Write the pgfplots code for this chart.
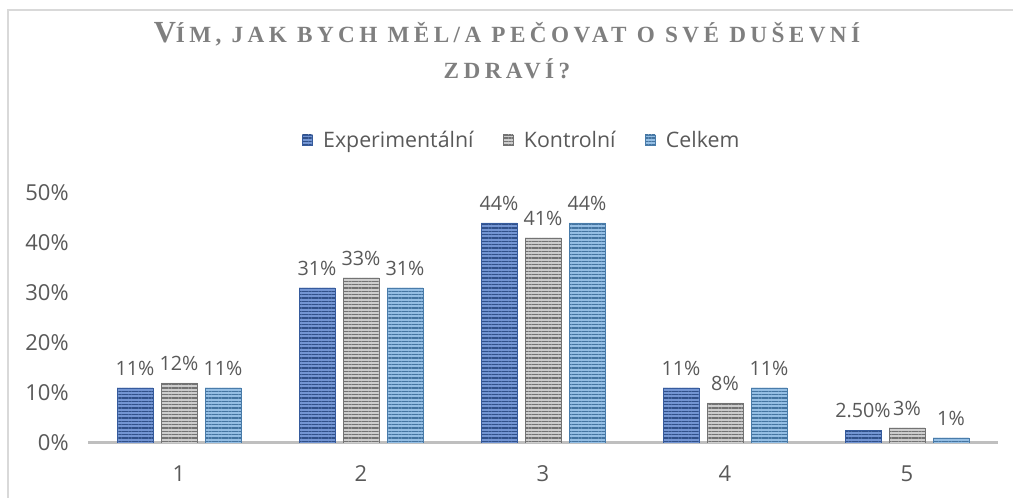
\documentclass[border=0pt]{standalone}
\usepackage{pgfplots}
\pgfplotsset{compat=1.18}
\usepackage{fontspec}
\setmainfont{Open Sans}
\newfontfamily\titlefont[LetterSpace=19]{Liberation Serif}
\usetikzlibrary{patterns.meta}
\definecolor{expblue}{HTML}{4472C4}
\definecolor{kgray}{HTML}{A5A5A5}
\definecolor{cblue}{HTML}{5B9BD5}
\definecolor{txtgray}{HTML}{595959}
\definecolor{titlegray}{HTML}{7F7F7F}
\definecolor{axgray}{HTML}{BFBFBF}
\definecolor{brd}{HTML}{D9D9D9}
\begin{document}
\begin{tikzpicture}[x=0.75pt,y=0.75pt]
\useasboundingbox (0,0) rectangle (1013,498);
\draw[brd,line width=1.5pt] (7.5,0) -- (7.5,487.5) -- (1013,487.5);
\node[titlegray,font=\titlefont\bfseries\fontsize{17.4}{20}\selectfont,anchor=base,inner sep=0pt] at (507,455)
 {{\fontsize{23}{26}\selectfont V}ÍM, JAK BYCH MĚL/A PEČOVAT O SVÉ DUŠEVNÍ};
\node[titlegray,font=\titlefont\bfseries\fontsize{17.4}{20}\selectfont,anchor=base,inner sep=0pt] at (507,419)
 {ZDRAVÍ?};
\begin{axis}[
  at={(66pt,41.25pt)}, anchor=origin,
  scale only axis, width=682.5pt, height=187.5pt,
  ybar=6pt, bar width=27pt,
  xmin=0.5, xmax=5.5, ymin=0, ymax=0.5,
  axis x line*=bottom, axis y line*=left,
  y axis line style={draw=none},
  x axis line style={draw=axgray,line width=2.25pt},
  xtick={1,2,3,4,5}, xticklabels={1,2,3,4,5},
  ytick={0,0.1,0.2,0.3,0.4,0.5},
  yticklabels={0\%,10\%,20\%,30\%,40\%,50\%},
  tick style={draw=none},
  ticklabel style={font=\fontsize{16.5}{19}\selectfont, text=txtgray},
  yticklabel style={xshift=-11pt},
  xticklabel style={yshift=-9pt},
  point meta=explicit symbolic,
  nodes near coords,
  nodes near coords style={font=\fontsize{14.8}{18}\selectfont, text=txtgray, anchor=south, yshift=6pt},
  legend style={at={(0.477,1.212)}, anchor=center, draw=none, fill=none,
    legend columns=3, font=\fontsize{16}{19}\selectfont, text=txtgray,
    /tikz/every odd column/.append style={column sep=6pt},
    /tikz/every even column/.append style={column sep=20pt}},
  legend image code/.code={\draw[#1,draw=none] (0pt,-3.75pt) rectangle (7.5pt,3.75pt);},
]
\addplot[fill=expblue!75!white, draw=expblue!80!black, line width=0.3pt,
  postaction={pattern={Lines[angle=0,distance=2.5pt,line width=0.8pt]}, pattern color=expblue!70!black}]
 coordinates {(1,0.11) [11\%] (2,0.31) [31\%] (3,0.44) [44\%] (4,0.11) [11\%] (5,0.025) [2.50\%]};
\addplot[fill=kgray!55!white, draw=kgray!70!black, line width=0.3pt,
  postaction={pattern={Lines[angle=0,distance=2.5pt,line width=0.8pt]}, pattern color=kgray!70!black}]
 coordinates {(1,0.12) [12\%] (2,0.33) [33\%] (3,0.41) [41\%] (4,0.08) [8\%] (5,0.03) [3\%]};
\addplot[fill=cblue!65!white, draw=cblue!80!black, line width=0.3pt,
  postaction={pattern={Lines[angle=0,distance=2.5pt,line width=0.8pt]}, pattern color=cblue!75!black}]
 coordinates {(1,0.11) [11\%] (2,0.31) [31\%] (3,0.44) [44\%] (4,0.11) [11\%] (5,0.01) [1\%]};
\legend{Experimentální,Kontrolní,Celkem}
\end{axis}
\end{tikzpicture}
\end{document}
